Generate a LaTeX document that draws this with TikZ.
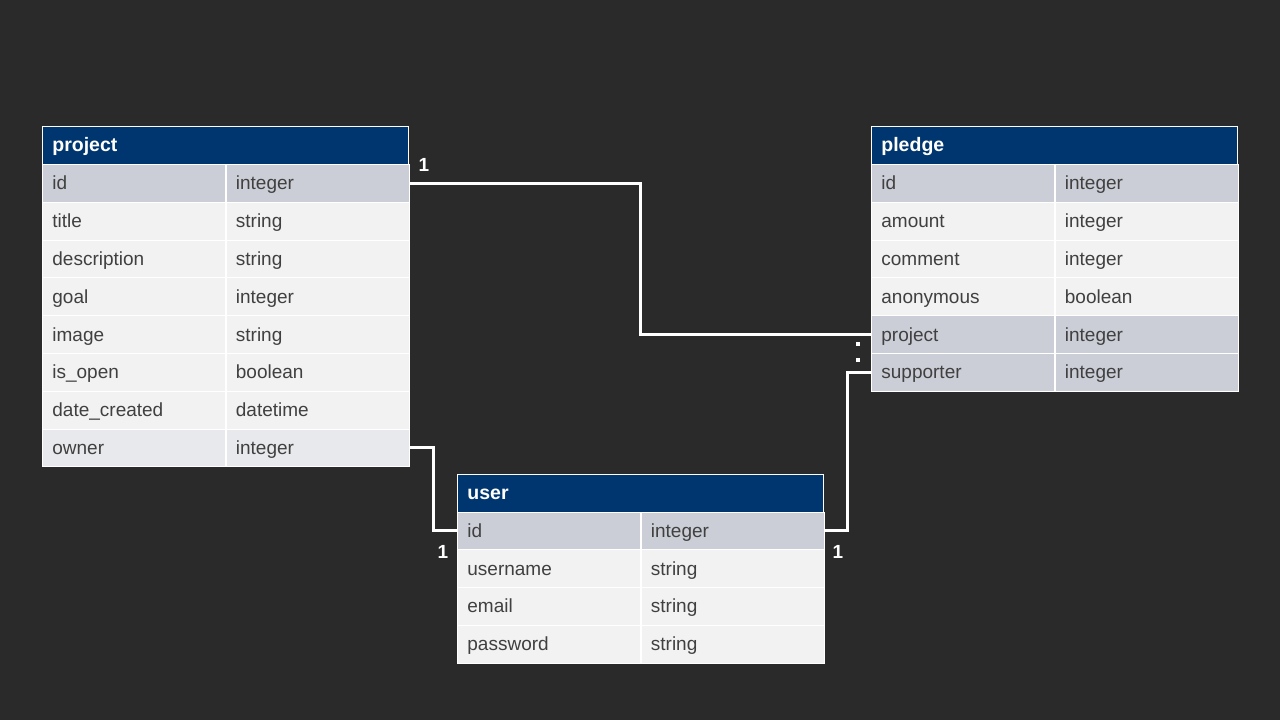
\documentclass[tikz,border=0pt]{standalone}
\usepackage{fontspec}
\setmainfont{Liberation Sans}
\definecolor{bgc}{HTML}{2A2A2A}
\definecolor{hdrblue}{HTML}{003670}
\definecolor{keyrow}{HTML}{CBCED6}
\definecolor{plainrow}{HTML}{F2F2F2}
\definecolor{fkrow}{HTML}{E8E9EC}
\definecolor{celltext}{HTML}{404040}
\begin{document}
\begin{tikzpicture}[x=1pt,y=-1pt,
  hdr/.style={fill=hdrblue, draw=white, line width=0.8pt, text=white, font=\fontsize{19.5}{21}\selectfont\bfseries,
    anchor=north west, inner xsep=10pt, inner ysep=0pt, text width=346pt, text height=18pt, text depth=4.5pt,
    minimum height=37.5pt, align=left},
  cell/.style={draw=white, line width=0.8pt, text=celltext, font=\fontsize{19}{21}\selectfont,
    anchor=north west, inner xsep=10pt, inner ysep=0pt, text width=163pt, text height=17.5pt, text depth=4.5pt,
    minimum height=37.8pt, align=left},
  conn/.style={draw=white, line width=3pt},
  card/.style={text=white, font=\fontsize{19}{21}\selectfont\bfseries, inner sep=0pt}]
\useasboundingbox[fill=bgc] (0,0) rectangle (1280,720);

% project table
\node[hdr] (project-h) at (42,126) {project};
\foreach \a/\b/\f [count=\i] in {id/integer/keyrow, title/string/plainrow, description/string/plainrow,
  goal/integer/plainrow, image/string/plainrow, is\_open/boolean/plainrow, date\_created/datetime/plainrow,
  owner/integer/fkrow}{
  \node[cell, fill=\f] (project-\i-a) at (42,{164+(\i-1)*37.8}) {\a};
  \node[cell, fill=\f] (project-\i-b) at (225.5,{164+(\i-1)*37.8}) {\b};
}

% pledge table
\node[hdr] (pledge-h) at (871,126) {pledge};
\foreach \a/\b/\f [count=\i] in {id/integer/keyrow, amount/integer/plainrow, comment/integer/plainrow,
  anonymous/boolean/plainrow, project/integer/keyrow, supporter/integer/keyrow}{
  \node[cell, fill=\f] (pledge-\i-a) at (871,{164+(\i-1)*37.8}) {\a};
  \node[cell, fill=\f] (pledge-\i-b) at (1054.5,{164+(\i-1)*37.8}) {\b};
}

% user table
\node[hdr] (user-h) at (457,474) {user};
\foreach \a/\b/\f [count=\i] in {id/integer/keyrow, username/string/plainrow, email/string/plainrow,
  password/string/plainrow}{
  \node[cell, fill=\f] (user-\i-a) at (457,{511.5+(\i-1)*37.8}) {\a};
  \node[cell, fill=\f] (user-\i-b) at (640.5,{511.5+(\i-1)*37.8}) {\b};
}

% connectors
\coordinate (m1) at (640,0);
\coordinate (m2) at (433,0);
\coordinate (m3) at (847,0);
\draw[conn] (project-1-b.east) -- (project-1-b.east -| m1) |- (pledge-5-a.west);
\draw[conn] (project-8-b.east) -- (project-8-b.east -| m2) |- (user-1-a.west);
\draw[conn] (user-1-b.east) -- (user-1-b.east -| m3) |- (pledge-6-a.west);

% cardinality marks
\node[card] (c1) at (424,165) {1};
\node[card] (c2) at (443,552) {1};
\node[card] (c3) at (838,552) {1};
\fill[white] (856,342) rectangle (860,346);
\fill[white] (856,358) rectangle (860,362);
\end{tikzpicture}
\end{document}
